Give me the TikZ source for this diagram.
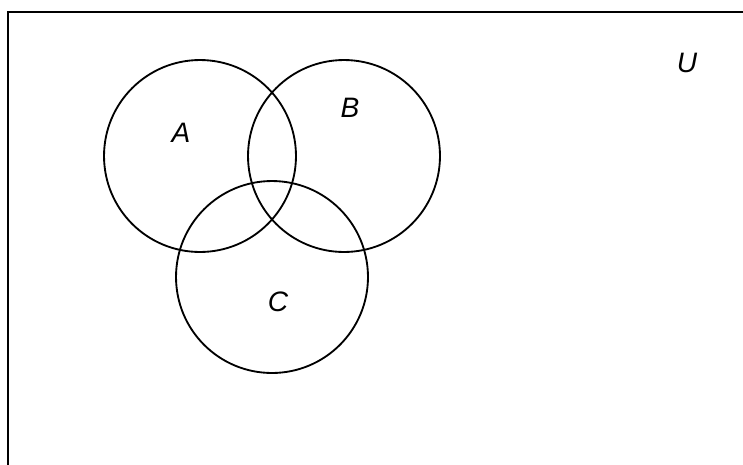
\documentclass[tikz,border=0pt]{standalone}
\usepackage{fontspec}
\setmainfont{Liberation Sans}
\usetikzlibrary{shapes}
\tikzstyle{venn} = [draw, circle, line width=1.05pt, minimum size=3.84cm, inner sep=0pt]
\tikzstyle{lbl} = [font=\fontsize{16}{19}\selectfont\itshape, inner sep=0pt]
\tikzstyle{frame} = [draw, line width=1.4pt]

\begin{document}
\begin{tikzpicture}[x=0.02cm, y=-0.02cm]
    \clip (0,0) rectangle (743,464);
    \path [frame] (8,12) rectangle (780,500);
    \node [venn] (setA) at (200,156) {};
    \node [venn] (setB) at (344,156) {};
    \node [venn] (setC) at (272,277) {};
    \node [lbl] (labA) at (181,133) {A};
    \node [lbl] (labB) at (350,108) {B};
    \node [lbl] (labC) at (278,302) {C};
    \node [lbl] (labU) at (687,63) {U};
\end{tikzpicture}
\end{document}
